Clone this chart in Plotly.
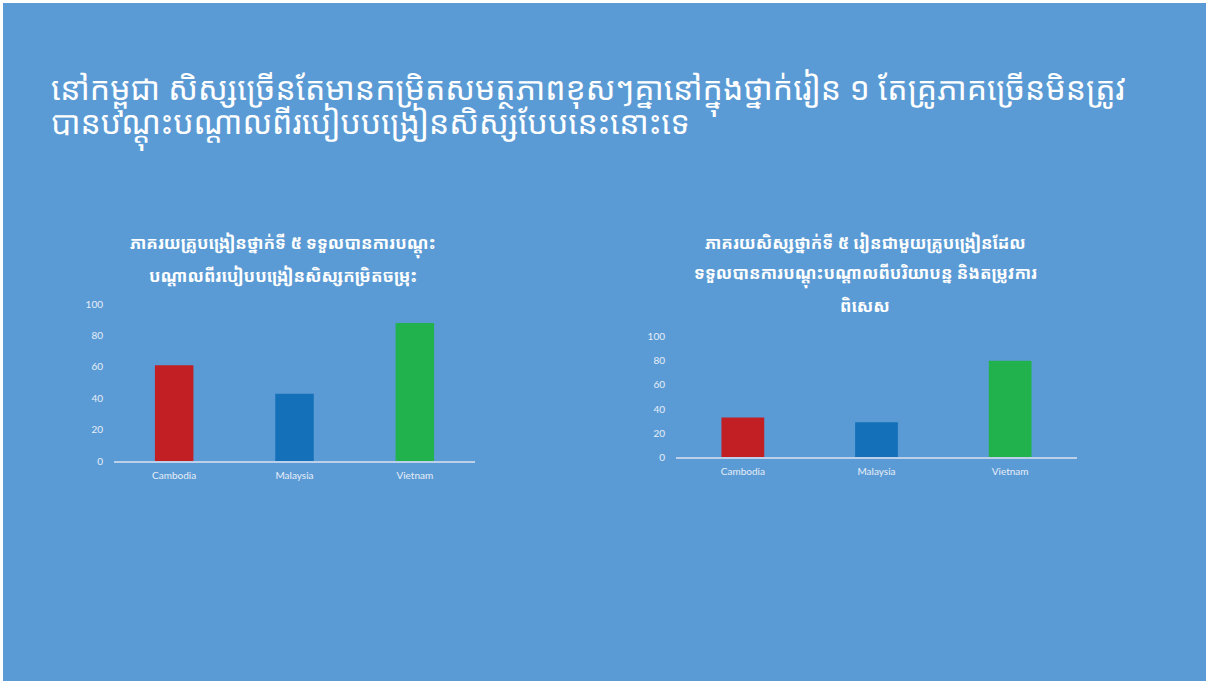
import plotly.graph_objects as go

W, H = 1208, 682

countries = ["Cambodia", "Malaysia", "Vietnam"]
teachers_trained = [61, 43, 88]
students_with_trained = [33, 29, 80]
bar_colors = ["#C11F24", "#1470B9", "#21B24D"]
y_ticks = [0, 20, 40, 60, 80, 100]

main_title_lines = [
    "នៅកម្ពុជា សិស្សច្រើនតែមានកម្រិតសមត្ថភាពខុសៗគ្នានៅក្នុងថ្នាក់រៀន ១ តែគ្រូភាគច្រើនមិនត្រូវ",
    "បានបណ្តុះបណ្តាលពីរបៀបបង្រៀនសិស្សបែបនេះនោះទេ",
]
left_title_lines = [
    "ភាគរយគ្រូបង្រៀនថ្នាក់ទី ៥ ទទួលបានការបណ្តុះ",
    "បណ្តាលពីរបៀបបង្រៀនសិស្សកម្រិតចម្រុះ",
]
right_title_lines = [
    "ភាគរយសិស្សថ្នាក់ទី ៥ រៀនជាមួយគ្រូបង្រៀនដែល",
    "ទទួលបានការបណ្តុះបណ្តាលពីបរិយាបន្ន និងតម្រូវការ",
    "ពិសេស",
]

BG = "#5B9BD5"
KH = "Noto Sans Khmer, Khmer OS, Noto Sans, sans-serif"
LAT = "Lato, Open Sans, sans-serif"
TICK_COL = "#E6EEF8"

fig = go.Figure()
fig.add_trace(go.Bar(x=countries, y=teachers_trained, marker=dict(color=bar_colors, line=dict(width=0)),
                     xaxis="x", yaxis="y", showlegend=False, hoverinfo="skip"))
fig.add_trace(go.Bar(x=countries, y=students_with_trained, marker=dict(color=bar_colors, line=dict(width=0)),
                     xaxis="x2", yaxis="y2", showlegend=False, hoverinfo="skip"))

def px_x(p):
    return p / W

def px_y(p):
    return (H - p) / H

xcommon = dict(showline=True, linecolor="#BCD0EA", linewidth=1.5, showgrid=False, zeroline=False,
               ticks="", tickfont=dict(family=LAT, size=10, color=TICK_COL), ticklabelstandoff=4,
               automargin=False, fixedrange=True)
ycommon = dict(range=[0, 100], tickvals=y_ticks, showline=False, showgrid=False, zeroline=False,
               ticks="", tickfont=dict(family=LAT, size=10, color=TICK_COL), ticklabelstandoff=10,
               automargin=False, fixedrange=True)

# main title as one text block: line height from base size 26 (~34px), glyphs drawn at 32px
main_text = "<br>".join('<span style="font-size:32px">' + l + "</span>" for l in main_title_lines)
annotations = [dict(text=main_text, xref="paper", yref="paper", x=px_x(49), y=px_y(64),
                    xanchor="left", yanchor="top", align="left", showarrow=False,
                    font=dict(family=KH, size=26, color="white"))]
for line, top in zip(left_title_lines, [229, 262]):
    annotations.append(dict(text="<b>" + line + "</b>", xref="paper", yref="paper", x=px_x(283), y=px_y(top),
                            xanchor="center", yanchor="top", showarrow=False,
                            font=dict(family=KH, size=17, color="white")))
for line, top in zip(right_title_lines, [229, 259, 292]):
    annotations.append(dict(text="<b>" + line + "</b>", xref="paper", yref="paper", x=px_x(865), y=px_y(top),
                            xanchor="center", yanchor="top", showarrow=False,
                            font=dict(family=KH, size=17, color="white")))

fig.update_layout(
    width=W, height=H,
    margin=dict(l=0, r=0, t=0, b=0, pad=0, autoexpand=False),
    paper_bgcolor="white",
    plot_bgcolor="rgba(0,0,0,0)",
    bargap=0.68,
    xaxis=dict(domain=[px_x(114), px_x(475)], anchor="y", **xcommon),
    yaxis=dict(domain=[px_y(461.3), px_y(304)], anchor="x", **ycommon),
    xaxis2=dict(domain=[px_x(676), px_x(1077)], anchor="y2", **xcommon),
    yaxis2=dict(domain=[px_y(457.3), px_y(336.7)], anchor="x2", **ycommon),
    shapes=[dict(type="rect", xref="paper", yref="paper", layer="below",
                 x0=px_x(3), x1=px_x(1206), y0=px_y(681), y1=px_y(3),
                 fillcolor=BG, line=dict(width=0))],
    annotations=annotations,
)

fig.write_html("out.html", config={"displayModeBar": False},
               post_script="document.body.style.margin='0';document.body.style.overflow='hidden';")
